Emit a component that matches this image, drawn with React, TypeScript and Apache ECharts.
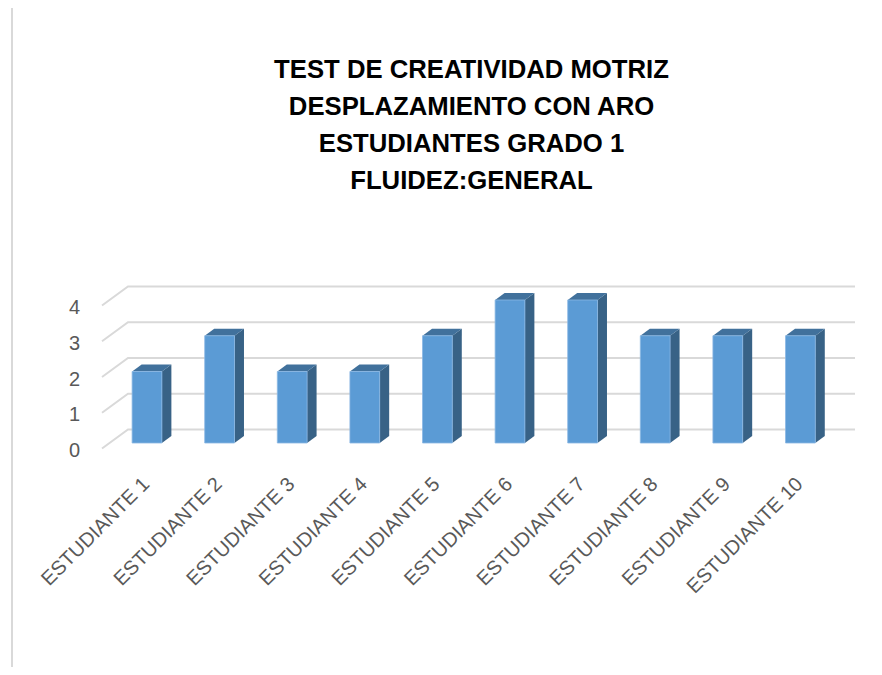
import React, { useEffect, useRef } from "react";
import * as echarts from "echarts";

const titleLines = [
  "TEST DE CREATIVIDAD MOTRIZ",
  "DESPLAZAMIENTO CON ARO",
  "ESTUDIANTES GRADO 1",
  "FLUIDEZ:GENERAL",
];
const categories = [
  "ESTUDIANTE 1",
  "ESTUDIANTE 2",
  "ESTUDIANTE 3",
  "ESTUDIANTE 4",
  "ESTUDIANTE 5",
  "ESTUDIANTE 6",
  "ESTUDIANTE 7",
  "ESTUDIANTE 8",
  "ESTUDIANTE 9",
  "ESTUDIANTE 10",
];
const values = [2, 3, 2, 2, 3, 4, 4, 3, 3, 3];
const yTicks = [0, 1, 2, 3, 4];

const FONT = "'Liberation Sans', Arial, sans-serif";
const LABEL_COLOR = "#595959";
const GRID_COLOR = "#d9d9d9";

// perspective offsets
const FRONT_DX = -8.7;
const FRONT_DY = 5.5;
const BACK_DX = 17.3;
const BACK_DY = -13.5;
const BAR_DX = 9.5;
const BAR_DY = -7;

export default function App() {
  const ref = useRef<HTMLDivElement>(null);
  useEffect(() => {
    if (!ref.current) return;
    const chart = echarts.init(ref.current, null, { renderer: "svg" });
    const titleGraphics = titleLines.map((line, i) => ({
      type: "text",
      x: 471.5,
      y: 68.5 + i * 37.3,
      style: {
        text: line,
        font: `bold 25.7px ${FONT}`,
        fill: "#000000",
        align: "center",
        verticalAlign: "middle",
      },
      z: 10,
    }));
    const option: any = {
      animation: false,
      backgroundColor: "#ffffff",
      graphic: [
        {
          type: "rect",
          shape: { x: 12, y: 6, width: 900, height: 700 },
          style: { fill: "none", stroke: GRID_COLOR, lineWidth: 2 },
          silent: true,
          z: 0,
        },
        ...titleGraphics,
      ],
      grid: { left: 110.7, right: 45.3, top: 300, bottom: 232, containLabel: false },
      xAxis: {
        type: "category",
        data: categories,
        axisLine: { show: false },
        axisTick: { show: false },
        splitLine: { show: false },
        axisLabel: {
          interval: 0,
          rotate: 45,
          margin: 36,
          padding: [0, 2, 24, 0],
          color: LABEL_COLOR,
          fontFamily: FONT,
          fontSize: 20,
        },
      },
      yAxis: {
        type: "value",
        min: 0,
        max: 4,
        interval: 1,
        axisLine: { show: false },
        axisTick: { show: false },
        splitLine: { show: false },
        axisLabel: { show: false },
      },
      series: [
        {
          type: "custom",
          z: 1,
          data: yTicks.map((t) => [0, t]),
          renderItem: (params: any, api: any) => {
            const v = api.value(1);
            const cs = params.coordSys;
            const y = api.coord([0, v])[1];
            const x0 = cs.x;
            const x1 = cs.x + cs.width;
            return {
              type: "group",
              children: [
                {
                  type: "polyline",
                  shape: {
                    points: [
                      [x0 + FRONT_DX, y + FRONT_DY],
                      [x0 + BACK_DX, y + BACK_DY],
                      [x1 + BACK_DX + 1, y + BACK_DY],
                    ],
                  },
                  style: { stroke: GRID_COLOR, lineWidth: 2, fill: "none" },
                },
                {
                  type: "text",
                  x: x0 + FRONT_DX - 22,
                  y: y + FRONT_DY + 1.5,
                  style: {
                    text: String(v),
                    font: `20px ${FONT}`,
                    fill: LABEL_COLOR,
                    align: "right",
                    verticalAlign: "middle",
                  },
                },
              ],
            };
          },
        },
        {
          type: "custom",
          z: 2,
          data: values.map((v, i) => [i, v]),
          renderItem: (params: any, api: any) => {
            const idx = api.value(0);
            const v = api.value(1);
            const top = api.coord([idx, v]);
            const base = api.coord([idx, 0]);
            const band = api.size([1, 0])[0];
            const w = band * 0.41;
            const xl = top[0] - w / 2;
            const xr = top[0] + w / 2;
            const yt = top[1];
            const yb = base[1];
            return {
              type: "group",
              children: [
                {
                  type: "polygon",
                  shape: {
                    points: [
                      [xr, yt],
                      [xr + BAR_DX, yt + BAR_DY],
                      [xr + BAR_DX, yb + BAR_DY],
                      [xr, yb],
                    ],
                  },
                  style: { fill: "#386286" },
                },
                {
                  type: "polygon",
                  shape: {
                    points: [
                      [xl, yt],
                      [xl + BAR_DX, yt + BAR_DY],
                      [xr + BAR_DX, yt + BAR_DY],
                      [xr, yt],
                    ],
                  },
                  style: { fill: "#41719c" },
                },
                {
                  type: "rect",
                  shape: { x: xl, y: yt, width: w, height: yb - yt },
                  style: { fill: "#5b9bd5", stroke: "#8ab8e3", lineWidth: 0.8 },
                },
              ],
            };
          },
        },
      ],
    };
    chart.setOption(option);
    return () => chart.dispose();
  }, []);
  return <div ref={ref} style={{ width: 882, height: 675, margin: -8 }} />;
}
